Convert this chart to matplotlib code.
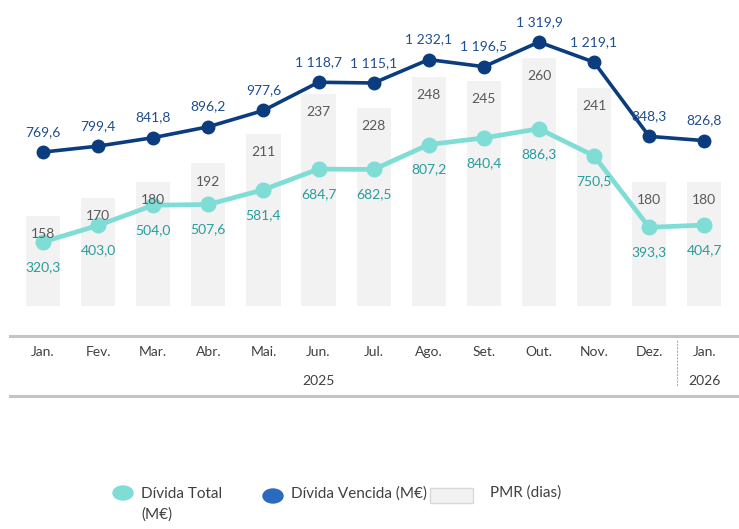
import matplotlib.pyplot as plt
import numpy as np
from matplotlib.lines import Line2D
from matplotlib.patches import Rectangle, Ellipse

plt.rcParams['font.family'] = ['Lato', 'DejaVu Sans']

months = ["Jan.", "Fev.", "Mar.", "Abr.", "Mai.", "Jun.", "Jul.", "Ago.",
          "Set.", "Out.", "Nov.", "Dez.", "Jan."]
years = ["2025", "2026"]
pmr = [158, 170, 180, 192, 211, 237, 228, 248, 245, 260, 241, 180, 180]
divida_total = [320.3, 403.0, 504.0, 507.6, 581.4, 684.7, 682.5, 807.2,
                840.4, 886.3, 750.5, 393.3, 404.7]
divida_vencida = [769.6, 799.4, 841.8, 896.2, 977.6, 1118.7, 1115.1, 1232.1,
                  1196.5, 1319.9, 1219.1, 848.3, 826.8]

def fmt(v):
    s = "{:,.1f}".format(v)
    return s.replace(",", " ").replace(".", ",")

W, H = 739, 529
fig = plt.figure(figsize=(W / 100, H / 100), dpi=100)
ax = fig.add_axes([15.5 / W, 1 - 306 / H, 716.3 / W, 286 / H])
ax2 = ax.twinx()

x = np.arange(len(months))
dark = "#0b3d7e"
cyan = "#80ddd6"
txt = "#404040"

# bars (PMR)
ax.bar(x, pmr, width=0.62, color="#f2f2f2", zorder=1)
ax.set_ylim(100, 284.6)
ax.set_xlim(-0.5, len(months) - 0.5)

# lines
ax2.plot(x, divida_vencida, color=dark, lw=2.6, marker="o", ms=9, zorder=3)
ax2.plot(x, divida_total, color=cyan, lw=3.4, marker="o", ms=10.5, zorder=3)
ax2.set_ylim(0, 1430)

# labels drawn on top of everything
for xi, v in zip(x, pmr):
    ax2.annotate(str(v), (xi, v), xycoords=ax.transData, xytext=(0, -13),
                 textcoords="offset points", ha="center", va="center",
                 fontsize=10, color="#595959", zorder=5)
for xi, v in zip(x, divida_vencida):
    ax2.annotate(fmt(v), (xi, v), xytext=(0, 14.5), textcoords="offset points",
                 ha="center", va="center", fontsize=10, color="#1f4e8c", zorder=5)
for xi, v in zip(x, divida_total):
    ax2.annotate(fmt(v), (xi, v), xytext=(0, -18), textcoords="offset points",
                 ha="center", va="center", fontsize=10, color="#2a9c9c", zorder=5)

for a in (ax, ax2):
    for s in a.spines.values():
        s.set_visible(False)
    a.set_yticks([])
ax.set_xticks(x, months)
ax.tick_params(axis="x", length=0, pad=29, labelsize=10, labelcolor=txt)

# category axis frame
fig.add_artist(Line2D([10 / W, 1], [1 - 336 / H] * 2, color="#c4c4c4", lw=2.2))
fig.add_artist(Line2D([10 / W, 1], [1 - 396 / H] * 2, color="#c4c4c4", lw=2.2))
trans = ax.get_xaxis_transform()
ax.plot([11.5, 11.5], [-(340 - 306) / 286, -(386 - 306) / 286], transform=trans,
        color="#b0b0b0", lw=0.8, ls=(0, (2, 1)), clip_on=False)
ax.text(5, -(381 - 306) / 286, years[0], transform=trans, ha="center", va="center",
        fontsize=10, color=txt)
ax.text(12, -(381 - 306) / 286, years[1], transform=trans, ha="center", va="center",
        fontsize=10, color=txt)

# legend, laid out by hand
def fx(px):
    return px / W

def fy(py):
    return 1 - py / H

fig.add_artist(Ellipse((fx(123), fy(493)), 20 / W, 14 / H, color=cyan))
fig.text(fx(141), fy(494), "Dívida Total", ha="left", va="center", fontsize=11, color=txt)
fig.text(fx(141), fy(515), "(M€)", ha="left", va="center", fontsize=11, color=txt)
fig.add_artist(Ellipse((fx(273), fy(496)), 20 / W, 14 / H, color="#2a6bbf"))
fig.text(fx(291), fy(494), "Dívida Vencida (M€)", ha="left", va="center", fontsize=11, color=txt)
fig.add_artist(Rectangle((fx(430), fy(503)), 43 / W, 15 / H, facecolor="#f2f2f2",
                         edgecolor="#d9d9d9", lw=1))
fig.text(fx(490), fy(493), "PMR (dias)", ha="left", va="center", fontsize=11, color=txt)

fig.savefig("out.png", dpi=100)
